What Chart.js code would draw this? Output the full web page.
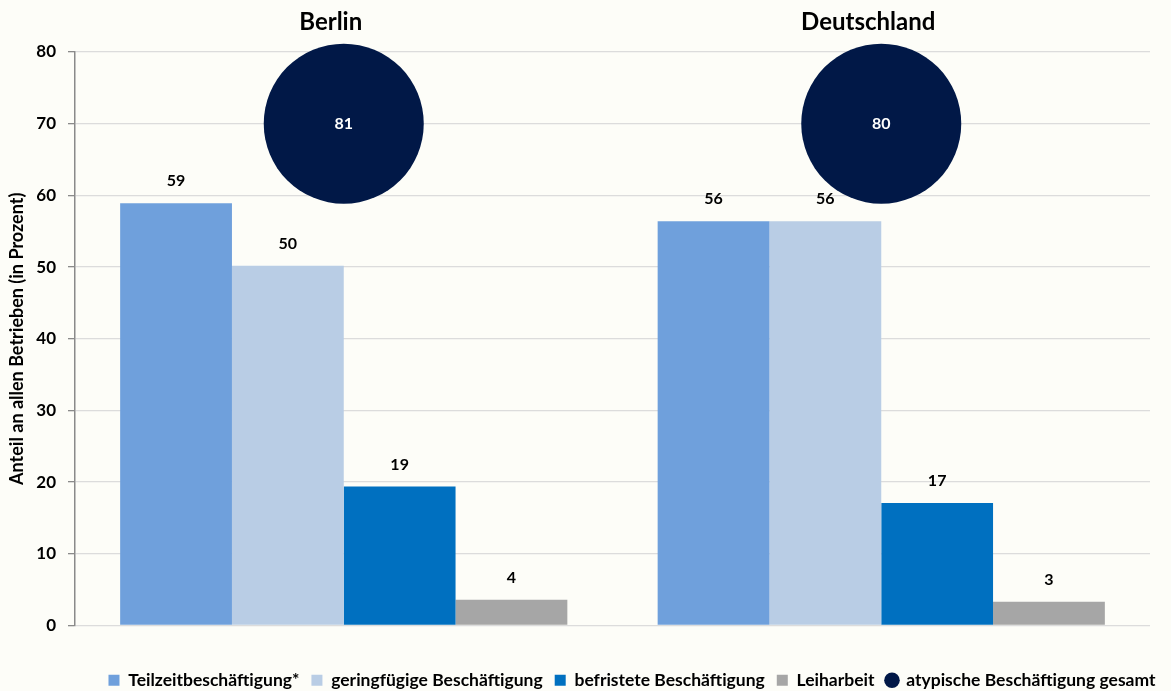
<!DOCTYPE html>
<html>
<head>
<meta charset="utf-8">
<script src="https://cdn.jsdelivr.net/npm/chart.js@4"></script>
<style>
  html, body { margin: 0; padding: 0; background: #fdfdf8; }
  #wrap { width: 1171px; height: 691px; }
</style>
</head>
<body>
<div id="wrap"><canvas id="chart" width="1171" height="691"></canvas></div>
<script>
const categories = ["Berlin", "Deutschland"];
const seriesNames = ["Teilzeitbeschäftigung*", "geringfügige Beschäftigung", "befristete Beschäftigung", "Leiharbeit"];
const teilzeit = [58.9, 56.4];
const geringfuegig = [50.2, 56.4];
const befristet = [19.4, 17.1];
const leiharbeit = [3.6, 3.3];
const totalName = "atypische Beschäftigung gesamt";
const atypischGesamt = [81, 80];
const yMin = 0, yMax = 80, yStep = 10;

// the big circles sit at a fixed height, their number is printed inside
const circleLevel = 70;
const circleRadius = 80;

const barColors = ["#6fa0dc", "#b9cde5", "#0070c0", "#a6a6a6"];
const circleColor = "#011847";

Chart.defaults.font.family = "Lato, 'Open Sans', sans-serif";
Chart.defaults.color = "#000";

const barSeries = [teilzeit, geringfuegig, befristet, leiharbeit];

const datasets = barSeries.map((vals, i) => ({
  type: "bar",
  label: seriesNames[i],
  data: vals,
  backgroundColor: barColors[i],
  borderWidth: 0,
  pointStyle: "rect",
  barPercentage: 1,
  categoryPercentage: 0.832
}));

datasets.push({
  type: "bubble",
  label: totalName,
  data: categories.map(c => ({ x: c, y: circleLevel, r: circleRadius })),
  totals: atypischGesamt,
  backgroundColor: circleColor,
  borderWidth: 0,
  pointStyle: "circle",
  clip: false
});

// numbers above the bars and inside the circles
const valueLabels = {
  id: "valueLabels",
  afterDatasetsDraw(chart) {
    const ctx = chart.ctx;
    ctx.save();
    ctx.textAlign = "center";
    ctx.textBaseline = "middle";
    ctx.font = "bold 16px Lato, sans-serif";
    chart.data.datasets.forEach((ds, di) => {
      const meta = chart.getDatasetMeta(di);
      meta.data.forEach((el, i) => {
        if (ds.type === "bubble") {
          ctx.fillStyle = "#fff";
          ctx.fillText(ds.totals[i], el.x, el.y);
        } else {
          ctx.fillStyle = "#000";
          ctx.fillText(Math.round(ds.data[i]), el.x, el.y - 22);
        }
      });
    });
    ctx.restore();
  }
};

// legend row sits a bit right of the canvas centre
const legendShift = {
  id: "legendShift",
  afterLayout(chart) {
    chart.legend.left += 57;
    chart.legend.right += 57;
  }
};

new Chart(document.getElementById("chart"), {
  type: "bar",
  data: { labels: categories, datasets: datasets },
  options: {
    responsive: false,
    animation: false,
    devicePixelRatio: 1,
    layout: { autoPadding: false, padding: { left: 0, right: 21, top: 0, bottom: -8 } },
    plugins: {
      tooltip: { enabled: false },
      legend: {
        position: "bottom",
        labels: {
          usePointStyle: true,
          boxWidth: 11,
          boxHeight: 11,
          padding: 12,
          font: { size: 17.5, weight: "bold" }
        }
      }
    },
    scales: {
      x: {
        position: "top",
        grid: { display: false },
        border: { display: false },
        ticks: { font: { size: 24, weight: "bold" }, padding: 7, labelOffset: -13 },
        afterFit: s => { s.height = 52; }
      },
      xb: {
        position: "bottom",
        grid: { display: false },
        border: { display: false },
        ticks: { display: false },
        afterFit: s => { s.height = 34; }
      },
      y: {
        min: yMin,
        max: yMax,
        ticks: { stepSize: yStep, font: { size: 17, weight: "bold" }, padding: 12 },
        grid: { color: "#dcdcdc", lineWidth: 1.3, tickLength: 7, tickColor: "#8a8a8a" },
        border: { color: "#8a8a8a", width: 1.5 },
        title: {
          display: true,
          text: "Anteil an allen Betrieben (in Prozent)",
          font: { size: 18, weight: "bold" },
          padding: { top: 6, bottom: 0 }
        },
        afterFit: s => { s.width = 75; }
      }
    }
  },
  plugins: [valueLabels, legendShift]
});
</script>
</body>
</html>
